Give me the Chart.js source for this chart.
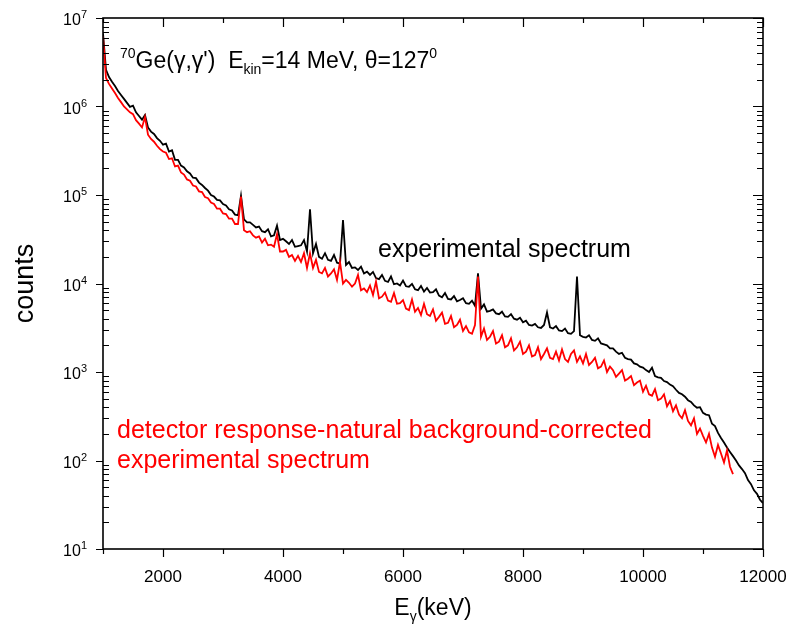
<!DOCTYPE html>
<html>
<head>
<meta charset="utf-8">
<script src="https://cdn.jsdelivr.net/npm/chart.js@4.4.1/dist/chart.umd.min.js"></script>
<style>
  html, body { margin: 0; padding: 0; background: #fff; }
</style>
</head>
<body>
<canvas id="spectrumChart" width="796" height="625"></canvas>
<script>
// gamma energy bins (keV)
const energy = [
  1000, 1050, 1100, 1150, 1200, 1250, 1300, 1350, 1400, 1450,
  1500, 1550, 1600, 1650, 1700, 1750, 1800, 1850, 1900, 1950,
  2000, 2050, 2100, 2150, 2200, 2250, 2300, 2350, 2400, 2450,
  2500, 2550, 2600, 2650, 2700, 2750, 2800, 2850, 2900, 2950,
  3000, 3050, 3100, 3150, 3200, 3250, 3300, 3350, 3400, 3450,
  3500, 3550, 3600, 3650, 3700, 3750, 3800, 3850, 3900, 3950,
  4000, 4050, 4100, 4150, 4200, 4250, 4300, 4350, 4400, 4450,
  4500, 4550, 4600, 4650, 4700, 4750, 4800, 4850, 4900, 4950,
  5000, 5050, 5100, 5150, 5200, 5250, 5300, 5350, 5400, 5450,
  5500, 5550, 5600, 5650, 5700, 5750, 5800, 5850, 5900, 5950,
  6000, 6050, 6100, 6150, 6200, 6250, 6300, 6350, 6400, 6450,
  6500, 6550, 6600, 6650, 6700, 6750, 6800, 6850, 6900, 6950,
  7000, 7050, 7100, 7150, 7200, 7250, 7300, 7350, 7400, 7450,
  7500, 7550, 7600, 7650, 7700, 7750, 7800, 7850, 7900, 7950,
  8000, 8050, 8100, 8150, 8200, 8250, 8300, 8350, 8400, 8450,
  8500, 8550, 8600, 8650, 8700, 8750, 8800, 8850, 8900, 8950,
  9000, 9050, 9100, 9150, 9200, 9250, 9300, 9350, 9400, 9450,
  9500, 9550, 9600, 9650, 9700, 9750, 9800, 9850, 9900, 9950,
  10000, 10050, 10100, 10150, 10200, 10250, 10300, 10350, 10400, 10450,
  10500, 10550, 10600, 10650, 10700, 10750, 10800, 10850, 10900, 10950,
  11000, 11050, 11100, 11150, 11200, 11250, 11300, 11350, 11400, 11450,
  11500, 11550, 11600, 11650, 11700, 11750, 11800, 11850, 11900, 11950,
  12000
];

// experimental spectrum (black)
const expCounts = [
  6.7e6, 2.6e6, 2.15e6, 1.9e6, 1.7e6, 1.5e6, 1.35e6, 1.22e6, 1.1e6, 9.9e5,
  1.02e6, 8.6e5, 7.8e5, 7.1e5, 8.0e5, 5.8e5, 5.2e5, 4.9e5, 4.4e5, 4.1e5,
  3.7e5, 3.8e5, 3.1e5, 3.2e5, 2.5e5, 2.5e5, 2.15e5, 2.05e5, 1.85e5, 1.75e5,
  1.57e5, 1.55e5, 1.38e5, 1.3e5, 1.2e5, 1.12e5, 1.0e5, 9.6e4, 8.8e4, 8.7e4,
  7.9e4, 7.6e4, 6.9e4, 6.7e4, 6.0e4, 5.9e4, 9.8e4, 5.3e4, 4.9e4, 4.9e4,
  4.6e4, 4.3e4, 4.4e4, 3.9e4, 3.8e4, 4.1e4, 3.4e4, 3.5e4, 4.5e4, 3.1e4,
  3.2e4, 3.0e4, 2.8e4, 3.1e4, 2.6e4, 2.65e4, 2.7e4, 3.1e4, 2.3e4, 6.9e4,
  2.2e4, 2.8e4, 2.0e4, 1.9e4, 2.2e4, 1.85e4, 1.8e4, 2.1e4, 1.72e4, 1.68e4,
  5.2e4, 1.62e4, 1.75e4, 1.5e4, 1.52e4, 1.42e4, 1.55e4, 1.3e4, 1.36e4, 1.25e4,
  1.35e4, 1.15e4, 1.12e4, 1.25e4, 1.07e4, 1.04e4, 1.2e4, 9.8e3, 1.0e4, 9.5e3,
  1.08e4, 9.3e3, 9.2e3, 9.9e3, 8.6e3, 8.4e3, 9.4e3, 8.1e3, 8.9e3, 7.9e3,
  8.0e3, 8.6e3, 7.3e3, 7.0e3, 7.8e3, 6.7e3, 6.6e3, 7.2e3, 6.3e3, 6.5e3,
  6.8e3, 6.0e3, 5.9e3, 6.4e3, 5.6e3, 1.3e4, 5.2e3, 5.8e3, 4.8e3, 4.9e3,
  5.1e3, 4.6e3, 4.5e3, 4.8e3, 4.25e3, 4.2e3, 4.5e3, 4.0e3, 3.9e3, 4.1e3,
  3.65e3, 3.8e3, 3.4e3, 3.35e3, 3.5e3, 3.2e3, 3.15e3, 3.4e3, 4.7e3, 3.2e3,
  3.1e3, 3.3e3, 2.95e3, 2.9e3, 3.1e3, 2.75e3, 2.7e3, 2.9e3, 1.2e4, 2.6e3,
  2.5e3, 2.45e3, 2.6e3, 2.3e3, 2.25e3, 2.4e3, 2.1e3, 2.05e3, 2.0e3, 1.85e3,
  1.85e3, 1.7e3, 1.6e3, 1.65e3, 1.45e3, 1.4e3, 1.38e3, 1.25e3, 1.22e3, 1.15e3,
  1.12e3, 1.05e3, 1.0e3, 1.12e3, 900, 870, 860, 790, 770, 720,
  690, 630, 580, 560, 525, 480, 460, 420, 395, 400,
  345, 330, 325, 260, 245, 205, 180, 160, 140, 125,
  112, 100, 88, 80, 72, 60, 54, 46, 42, 36,
  33
];

// detector response / natural background corrected spectrum (red)
const corrCounts = [
  6.2e6, 2.1e6, 1.8e6, 1.6e6, 1.42e6, 1.25e6, 1.12e6, 1.0e6, 9.3e5, 8.6e5,
  8.2e5, 7.0e5, 6.4e5, 5.8e5, 7.6e5, 4.8e5, 4.3e5, 4.0e5, 3.6e5, 3.3e5,
  3.1e5, 3.0e5, 2.55e5, 2.6e5, 2.1e5, 2.15e5, 1.8e5, 1.7e5, 1.5e5, 1.45e5,
  1.28e5, 1.25e5, 1.1e5, 1.08e5, 9.5e4, 9.2e4, 8.2e4, 7.9e4, 7.0e4, 7.0e4,
  6.2e4, 6.1e4, 5.4e4, 5.4e4, 4.7e4, 4.7e4, 9.6e4, 4.0e4, 3.8e4, 3.9e4,
  3.5e4, 3.3e4, 3.4e4, 2.9e4, 3.2e4, 2.7e4, 2.75e4, 2.6e4, 3.6e4, 2.3e4,
  2.3e4, 2.4e4, 2.0e4, 2.1e4, 1.8e4, 2.05e4, 1.75e4, 2.2e4, 1.5e4, 2.2e4,
  1.5e4, 1.85e4, 1.35e4, 1.3e4, 1.5e4, 1.2e4, 1.3e4, 1.45e4, 1.1e4, 1.75e4,
  1.0e4, 1.1e4, 1.02e4, 9.2e3, 1.0e4, 1.25e4, 8.4e3, 8.8e3, 8.0e3, 9.5e3,
  7.4e3, 1.05e4, 6.8e3, 7.1e3, 7.9e3, 6.4e3, 6.2e3, 7.8e3, 5.9e3, 6.0e3,
  6.5e3, 5.2e3, 5.0e3, 6.6e3, 4.8e3, 5.3e3, 4.4e3, 5.9e3, 4.5e3, 4.3e3,
  5.1e3, 3.8e3, 4.2e3, 4.7e3, 3.5e3, 3.6e3, 4.3e3, 3.2e3, 3.4e3, 3.9e3,
  2.9e3, 3.3e3, 2.8e3, 2.7e3, 3.4e3, 1.2e4, 2.5e3, 3.1e3, 2.3e3, 2.5e3,
  2.9e3, 2.1e3, 2.2e3, 2.6e3, 1.9e3, 2.0e3, 2.4e3, 1.75e3, 1.9e3, 2.2e3,
  1.6e3, 1.7e3, 2.0e3, 1.5e3, 1.55e3, 1.9e3, 1.4e3, 1.6e3, 1.85e3, 1.45e3,
  1.4e3, 1.7e3, 1.35e3, 1.8e3, 1.4e3, 1.3e3, 1.6e3, 1.75e3, 1.3e3, 1.5e3,
  1.25e3, 1.6e3, 1.2e3, 1.3e3, 1.45e3, 1.1e3, 1.15e3, 1.35e3, 1.0e3, 1.15e3,
  1.05e3, 880, 960, 1.05e3, 800, 840, 900, 710, 760, 800,
  600, 700, 560, 540, 640, 480, 500, 560, 410, 470,
  360, 420, 330, 300, 370, 280, 250, 300, 200, 230,
  190, 160, 200, 140, 110, 150, 120, 95, 130, 85,
  70, null, null, null, null, null, null, null, null, null,
  null
];

const xTickValues = [1000, 2000, 3000, 4000, 5000, 6000, 7000, 8000, 9000, 10000, 11000, 12000];
const xTickLabels = [2000, 4000, 6000, 8000, 10000, 12000];
const yDecades = [1, 2, 3, 4, 5, 6, 7];

const FONT = '"Liberation Sans", Arial, Helvetica, sans-serif';

function toPoints(ys) {
  return energy.map((e, i) => ({ x: e, y: ys[i] }));
}

// text made of normal / superscript / subscript runs
function runsWidth(ctx, runs, size) {
  let w = 0;
  runs.forEach(r => {
    ctx.font = ((r.sup || r.sub) ? r.small || size * 0.6 : size) + 'px ' + FONT;
    w += ctx.measureText(r.t).width;
  });
  return w;
}
function drawRuns(ctx, x, y, runs, size, color) {
  ctx.fillStyle = color;
  ctx.textAlign = 'left';
  ctx.textBaseline = 'alphabetic';
  runs.forEach(r => {
    const s = (r.sup || r.sub) ? r.small || size * 0.6 : size;
    ctx.font = s + 'px ' + FONT;
    const dy = r.sup ? -size * 0.42 : (r.sub ? size * 0.25 : 0);
    ctx.fillText(r.t, x, y + dy);
    x += ctx.measureText(r.t).width;
  });
}

const framePlugin = {
  id: 'frame',
  afterDraw(chart) {
    const { ctx, chartArea: a, scales: { x, y } } = chart;
    ctx.save();
    ctx.strokeStyle = '#000';
    ctx.lineWidth = 1.6;
    ctx.strokeRect(a.left, a.top, a.right - a.left, a.bottom - a.top);

    ctx.lineWidth = 1.2;
    ctx.beginPath();
    x.ticks.forEach(t => {
      const px = Math.round(x.getPixelForValue(t.value)) + 0.5;
      const major = t.value % 2000 === 0;
      ctx.moveTo(px, a.bottom); ctx.lineTo(px, a.bottom + (major ? 8 : 5));
      ctx.moveTo(px, a.top); ctx.lineTo(px, a.top + (major ? 9 : 5));
    });
    y.ticks.forEach(t => {
      const py = Math.round(y.getPixelForValue(t.value)) + 0.5;
      if (t.major) {
        ctx.moveTo(a.left - 7, py); ctx.lineTo(a.left, py);
        ctx.moveTo(a.right, py); ctx.lineTo(a.right - 10, py);
      } else {
        ctx.moveTo(a.left, py); ctx.lineTo(a.left + 6, py);
        ctx.moveTo(a.right, py); ctx.lineTo(a.right - 6, py);
      }
    });
    ctx.stroke();

    // x tick labels
    ctx.fillStyle = '#000';
    ctx.font = '17px ' + FONT;
    ctx.textAlign = 'center';
    ctx.textBaseline = 'alphabetic';
    xTickLabels.forEach(v => {
      ctx.fillText(String(v), x.getPixelForValue(v), 582);
    });

    // y tick labels 10^n
    yDecades.forEach(n => {
      const py = y.getPixelForValue(Math.pow(10, n));
      const runs = [{ t: '10' }, { t: String(n), sup: true, small: 11 }];
      const w = runsWidth(ctx, runs, 16);
      drawRuns(ctx, 87 - w, py + 7, runs, 16, '#000');
    });

    // axis titles
    const xt = [{ t: 'E' }, { t: 'γ', sub: true, small: 14 }, { t: '(keV)' }];
    const xw = runsWidth(ctx, xt, 23);
    drawRuns(ctx, (a.left + a.right) / 2 - xw / 2, 615, xt, 23, '#000');

    ctx.save();
    ctx.translate(33, (a.top + a.bottom) / 2);
    ctx.rotate(-Math.PI / 2);
    ctx.font = '27px ' + FONT;
    ctx.textAlign = 'center';
    ctx.fillStyle = '#000';
    ctx.fillText('counts', 0, 0);
    ctx.restore();

    // annotations
    drawRuns(ctx, 120, 68, [
      { t: '70', sup: true, small: 14 }, { t: 'Ge(γ,γ\')  E' }, { t: 'kin', sub: true, small: 14 },
      { t: '=14 MeV, θ=127' }, { t: '0', sup: true, small: 14 }
    ], 23, '#000');
    drawRuns(ctx, 378, 257, [{ t: 'experimental spectrum' }], 25, '#000');
    drawRuns(ctx, 117, 438, [{ t: 'detector response-natural background-corrected' }], 25, '#ff0000');
    drawRuns(ctx, 117, 468, [{ t: 'experimental spectrum' }], 25, '#ff0000');
    ctx.restore();
  }
};

new Chart(document.getElementById('spectrumChart'), {
  type: 'line',
  data: {
    datasets: [
      {
        label: 'experimental spectrum',
        data: toPoints(expCounts),
        borderColor: '#000000',
        borderWidth: 1.8,
        order: 2
      },
      {
        label: 'corrected spectrum',
        data: toPoints(corrCounts),
        borderColor: '#ff0000',
        borderWidth: 1.8,
        spanGaps: false,
        order: 1
      }
    ]
  },
  options: {
    responsive: false,
    animation: false,
    devicePixelRatio: 1,
    layout: { padding: { top: 18, right: 33, left: 0, bottom: 0 } },
    elements: { point: { radius: 0 }, line: { tension: 0 } },
    plugins: { legend: { display: false }, tooltip: { enabled: false } },
    scales: {
      x: {
        type: 'linear',
        min: 1000,
        max: 12000,
        grid: { display: false },
        border: { display: false },
        ticks: { display: false },
        afterBuildTicks: s => { s.ticks = xTickValues.map(v => ({ value: v })); },
        afterFit: s => { s.height = 76; }
      },
      y: {
        type: 'logarithmic',
        min: 10,
        max: 1e7,
        grid: { display: false },
        border: { display: false },
        ticks: { display: false },
        afterBuildTicks: s => {
          const ticks = [];
          for (let n = 1; n < 7; n++) {
            for (let m = 1; m < 10; m++) ticks.push({ value: m * Math.pow(10, n), major: m === 1 });
          }
          ticks.push({ value: 1e7, major: true });
          s.ticks = ticks;
        },
        afterFit: s => { s.width = 103; }
      }
    }
  },
  plugins: [framePlugin]
});
</script>
</body>
</html>
